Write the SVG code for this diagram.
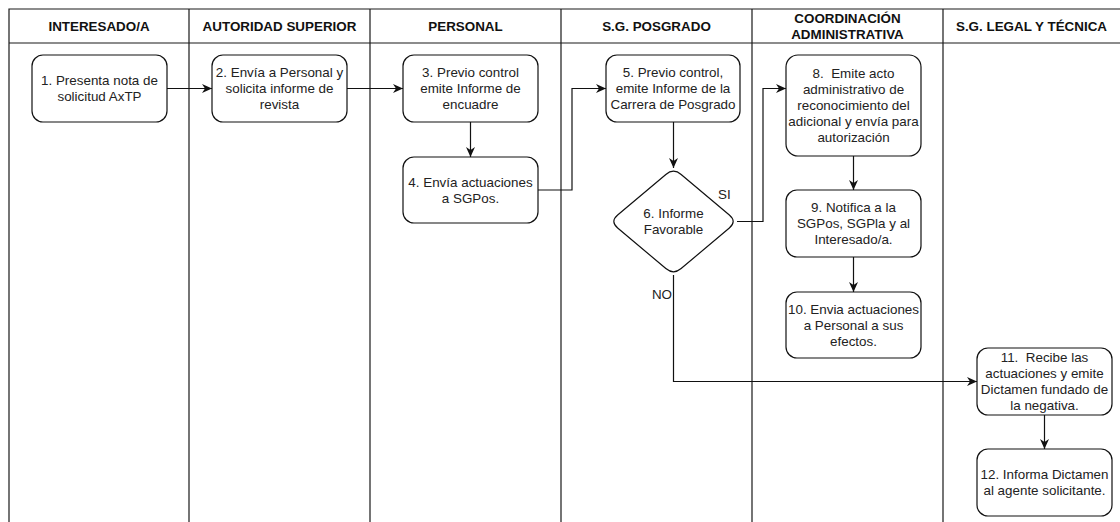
<svg xmlns="http://www.w3.org/2000/svg" width="1120" height="522" viewBox="0 0 1120 522">
<style>
  .lane { stroke: #1a1a1a; stroke-width: 1.2; fill: none; }
  .hdr { font-family: "Liberation Sans", Arial, sans-serif; font-size: 13.4px; font-weight: bold; fill: #111; text-anchor: middle; }
  .box { fill: #fff; stroke: #111; stroke-width: 1.2; }
  .t { font-family: "Liberation Sans", Arial, sans-serif; font-size: 13.4px; fill: #222; text-anchor: middle; white-space: pre; }
  .lbl { font-family: "Liberation Sans", Arial, sans-serif; font-size: 13.4px; fill: #222; }
  .edge { stroke: #111; stroke-width: 1.2; fill: none; marker-end: url(#arr); }
  .line { stroke: #111; stroke-width: 1.2; fill: none; }
</style>
<defs>
  <marker id="arr" viewBox="0 0 10 9" refX="10" refY="4.5" markerWidth="10" markerHeight="9" markerUnits="userSpaceOnUse" orient="auto">
    <path d="M0,0 L10,4.5 L0,9 L3,4.5 Z" fill="#111"/>
  </marker>
</defs>
<rect width="1120" height="522" fill="#fff"/>
<g id="lanes">
  <path class="lane" d="M9,522 V9 H1120 M9,43 H1120 M189,9 V522 M370,9 V522 M561,9 V522 M752,9 V522 M943,9 V522"/>
  <text class="hdr" x="99" y="30.8">INTERESADO/A</text>
  <text class="hdr" x="279.5" y="30.8">AUTORIDAD SUPERIOR</text>
  <text class="hdr" x="465.5" y="30.8">PERSONAL</text>
  <text class="hdr" x="656.5" y="30.8">S.G. POSGRADO</text>
  <text class="hdr" x="847.5" y="22.8">COORDINACIÓN</text>
  <text class="hdr" x="847.5" y="38.8">ADMINISTRATIVA</text>
  <text class="hdr" x="1031.5" y="30.8">S.G. LEGAL Y TÉCNICA</text>
</g>
<g id="connectors">
  <path class="edge" d="M167,88.5 H212"/>
  <path class="edge" d="M347,88.5 H403"/>
  <path class="edge" d="M470.5,122 V157"/>
  <path class="edge" d="M538,190 H572 V88.5 H606"/>
  <path class="edge" d="M673.5,122 V168"/>
  <path class="edge" d="M737,221.5 H763 V88.5 H786"/>
  <path class="edge" d="M853.5,156 V190"/>
  <path class="edge" d="M853.5,257 V292"/>
  <path class="edge" d="M673.5,275 V381.5 H977"/>
  <path class="edge" d="M1044.5,415 V449"/>
  <text class="lbl" x="718" y="199">SI</text>
  <text class="lbl" x="672" y="299" text-anchor="end">NO</text>
</g>
<g id="n1">
  <rect class="box" x="32" y="55" width="135" height="67" rx="11"/>
  <text class="t" x="99.5" y="85.2">1. Presenta nota de</text>
  <text class="t" x="99.5" y="101.2">solicitud AxTP</text>
</g>
<g id="n2">
  <rect class="box" x="212" y="55" width="135" height="67" rx="11"/>
  <text class="t" x="279.5" y="77.2">2. Envía a Personal y</text>
  <text class="t" x="279.5" y="93.2">solicita informe de</text>
  <text class="t" x="279.5" y="109.2">revista</text>
</g>
<g id="n3">
  <rect class="box" x="403" y="55" width="135" height="67" rx="11"/>
  <text class="t" x="470.5" y="77.2">3. Previo control</text>
  <text class="t" x="470.5" y="93.2">emite Informe de</text>
  <text class="t" x="470.5" y="109.2">encuadre</text>
</g>
<g id="n4">
  <rect class="box" x="403" y="157" width="135" height="66" rx="11"/>
  <text class="t" x="470.5" y="186.7">4. Envía actuaciones</text>
  <text class="t" x="470.5" y="202.7">a SGPos.</text>
</g>
<g id="n5">
  <rect class="box" x="606" y="55" width="134" height="67" rx="11"/>
  <text class="t" x="673" y="77.2">5. Previo control,</text>
  <text class="t" x="673" y="93.2">emite Informe de la</text>
  <text class="t" x="673" y="109.2">Carrera de Posgrado</text>
</g>
<g id="n6">
  <path class="box" d="M681.15,174.45 L729.35,215.05 Q737,221.5 729.35,227.95 L681.15,268.55 Q673.5,275 665.85,268.55 L617.65,227.95 Q610,221.5 617.65,215.05 L665.85,174.45 Q673.5,168 681.15,174.45 Z"/>
  <text class="t" x="673.5" y="218.2">6. Informe</text>
  <text class="t" x="673.5" y="234.2">Favorable</text>
</g>
<g id="n8">
  <rect class="box" x="786" y="55" width="135" height="101" rx="12"/>
  <text class="t" x="853.5" y="78.2">8.  Emite acto</text>
  <text class="t" x="853.5" y="94.2">administrativo de</text>
  <text class="t" x="853.5" y="110.2">reconocimiento del</text>
  <text class="t" x="853.5" y="126.2">adicional y envía para</text>
  <text class="t" x="853.5" y="142.2">autorización</text>
</g>
<g id="n9">
  <rect class="box" x="786" y="190" width="135" height="67" rx="11"/>
  <text class="t" x="853.5" y="212.2">9. Notifica a la</text>
  <text class="t" x="853.5" y="228.2">SGPos, SGPla y al</text>
  <text class="t" x="853.5" y="244.2">Interesado/a.</text>
</g>
<g id="n10">
  <rect class="box" x="786" y="292" width="135" height="66" rx="11"/>
  <text class="t" x="853.5" y="313.7">10. Envia actuaciones</text>
  <text class="t" x="853.5" y="329.7">a Personal a sus</text>
  <text class="t" x="853.5" y="345.7">efectos.</text>
</g>
<g id="n11">
  <rect class="box" x="977" y="348" width="135" height="67" rx="11"/>
  <text class="t" x="1044.5" y="362.2">11.  Recibe las</text>
  <text class="t" x="1044.5" y="378.2">actuaciones y emite</text>
  <text class="t" x="1044.5" y="394.2">Dictamen fundado de</text>
  <text class="t" x="1044.5" y="410.2">la negativa.</text>
</g>
<g id="n12">
  <rect class="box" x="977" y="449" width="135" height="67" rx="11"/>
  <text class="t" x="1044.5" y="479.2">12. Informa Dictamen</text>
  <text class="t" x="1044.5" y="495.2">al agente solicitante.</text>
</g>
</svg>
